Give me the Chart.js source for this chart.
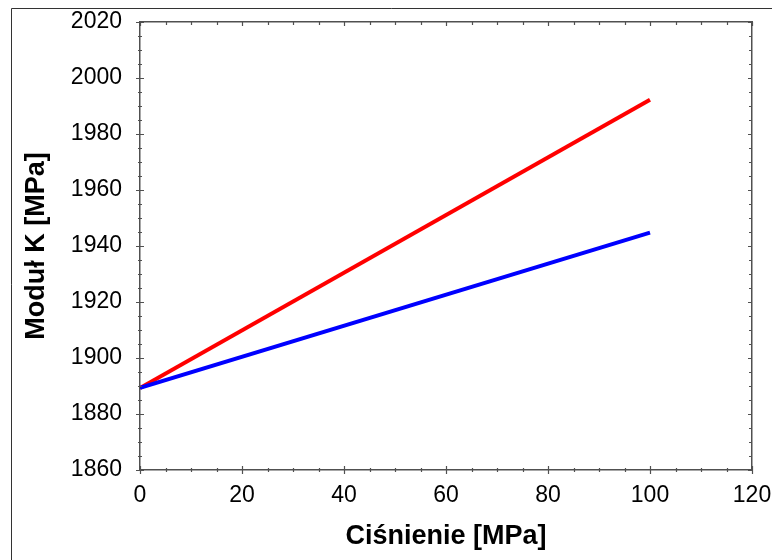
<!DOCTYPE html>
<html>
<head>
<meta charset="utf-8">
<script src="https://cdn.jsdelivr.net/npm/chart.js@4"></script>
<style>
  body { margin: 0; background: #fff; }
  canvas { display: block; }
</style>
</head>
<body>
<canvas id="modulus-chart" width="772" height="560"></canvas>
<script>
// pressure [MPa] and bulk modulus K [MPa]
const pressure = [0, 100];
const modulusRed = [1889.3, 1992.2];
const modulusBlue = [1889.3, 1944.8];

const xRange = { min: 0, max: 120, major: 20, minor: 5 };
const yRange = { min: 1860, max: 2020, major: 20, minor: 5 };

const toPoints = (xs, ys) => xs.map((x, i) => ({ x: x, y: ys[i] }));

const axisColor = '#505050';
const fontFamily = '"Liberation Sans", Arial, sans-serif';

// outer frame + inward / crossing tick marks on all four sides
const frameAndTicks = {
  id: 'frameAndTicks',
  beforeDraw(chart) {
    const ctx = chart.ctx;
    ctx.save();
    ctx.fillStyle = '#fff';
    ctx.fillRect(0, 0, chart.width, chart.height);
    ctx.strokeStyle = '#333';
    ctx.lineWidth = 1;
    ctx.beginPath();
    ctx.moveTo(11.5, chart.height);
    ctx.lineTo(11.5, 8.5);
    ctx.lineTo(chart.width, 8.5);
    ctx.stroke();
    ctx.restore();
  },
  afterDraw(chart) {
    const ctx = chart.ctx;
    const area = chart.chartArea;
    const sx = chart.scales.x, sy = chart.scales.y;
    ctx.save();
    ctx.strokeStyle = axisColor;
    ctx.lineWidth = 1.2;
    ctx.beginPath();
    for (let v = xRange.min; v <= xRange.max; v += xRange.minor) {
      const px = Math.round(sx.getPixelForValue(v)) + 0.5;
      const major = v % xRange.major === 0;
      const half = major ? 4 : 2;
      ctx.moveTo(px, area.bottom - half);
      ctx.lineTo(px, area.bottom + half);
      ctx.moveTo(px, area.top);
      ctx.lineTo(px, area.top + (major ? 4 : 3));
    }
    for (let v = yRange.min; v <= yRange.max; v += yRange.minor) {
      const py = Math.round(sy.getPixelForValue(v)) + 0.5;
      const major = v % yRange.major === 0;
      const half = major ? 4 : 2;
      ctx.moveTo(area.left - half, py);
      ctx.lineTo(area.left + half, py);
      ctx.moveTo(area.right, py);
      ctx.lineTo(area.right - (major ? 4 : 3), py);
    }
    ctx.stroke();
    ctx.restore();
  }
};

// fixed box sizes, no extra room for overhanging tick labels
const fixWidth = w => scale => {
  scale.width = w;
  scale.paddingTop = 0;
  scale.paddingBottom = 0;
};
const fixHeight = h => scale => {
  scale.height = h;
  scale.paddingLeft = 0;
  scale.paddingRight = 0;
};

const chart = new Chart(document.getElementById('modulus-chart').getContext('2d'), {
  type: 'line',
  data: {
    datasets: [{
      label: 'blue',
      data: toPoints(pressure, modulusBlue),
      borderColor: '#0000ff',
      borderWidth: 4,
      pointRadius: 0,
      fill: false
    }, {
      label: 'red',
      data: toPoints(pressure, modulusRed),
      borderColor: '#ff0000',
      borderWidth: 4,
      pointRadius: 0,
      fill: false
    }]
  },
  options: {
    responsive: false,
    animation: false,
    devicePixelRatio: 1,
    layout: { padding: 0 },
    plugins: {
      legend: { display: false },
      tooltip: { enabled: false }
    },
    scales: {
      x: {
        type: 'linear',
        position: 'bottom',
        min: xRange.min,
        max: xRange.max,
        afterFit: fixHeight(90),
        grid: { display: false, drawTicks: false },
        border: { display: true, color: axisColor, width: 1.5 },
        ticks: {
          stepSize: xRange.major,
          padding: 12,
          color: '#000',
          font: { family: fontFamily, size: 23 },
          callback: v => String(v)
        },
        title: {
          display: true,
          text: 'Ciśnienie [MPa]',
          color: '#000',
          padding: { top: 0, bottom: 7 },
          font: { family: fontFamily, size: 27, weight: 'bold' }
        }
      },
      x2: {
        type: 'linear',
        position: 'top',
        min: xRange.min,
        max: xRange.max,
        afterFit: fixHeight(22),
        grid: { display: false, drawTicks: false },
        border: { display: true, color: axisColor, width: 1.5 },
        ticks: { display: false }
      },
      y: {
        type: 'linear',
        position: 'left',
        min: yRange.min,
        max: yRange.max,
        afterFit: fixWidth(140),
        grid: { display: false, drawTicks: false },
        border: { display: true, color: axisColor, width: 1.5 },
        ticks: {
          stepSize: yRange.major,
          padding: 18,
          color: '#000',
          font: { family: fontFamily, size: 23 },
          callback: v => String(v)
        },
        title: {
          display: true,
          text: 'Moduł K [MPa]',
          color: '#000',
          padding: { top: 20, bottom: 0 },
          font: { family: fontFamily, size: 27, weight: 'bold' }
        }
      },
      y2: {
        type: 'linear',
        position: 'right',
        min: yRange.min,
        max: yRange.max,
        afterFit: fixWidth(20),
        grid: { display: false, drawTicks: false },
        border: { display: true, color: axisColor, width: 1.5 },
        ticks: { display: false }
      }
    }
  },
  plugins: [frameAndTicks]
});
</script>
</body>
</html>
